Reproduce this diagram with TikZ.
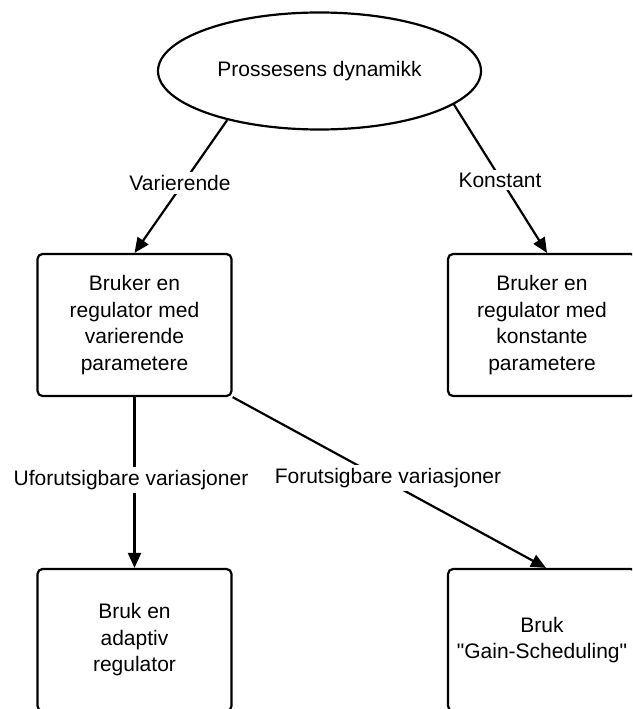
\documentclass[tikz,border=0pt]{standalone}
\usepackage{fontspec}
\setmainfont{Liberation Sans}[Ligatures=TeXOff]
\usetikzlibrary{arrows.meta,shapes.geometric,calc}
\begin{document}
\begin{tikzpicture}[x=1pt,y=-1pt,
  every node/.style={font=\fontsize{21}{26.5}\selectfont},
  box/.style={draw, line width=2.2pt, rounded corners=5pt,
    minimum width=194pt, minimum height=142pt, align=center, inner sep=0pt},
  link/.style={line width=2.2pt, -{Triangle[length=15pt,width=13pt]}},
  tag/.style={fill=white, inner sep=3pt}]
\useasboundingbox (0,0) rectangle (632,709);
\clip (0,0) rectangle (632,709);

% start node
\node[ellipse, draw, line width=2.2pt, minimum width=323pt, minimum height=117pt,
  inner sep=0pt] (dyn) at (319.5,71) {Prossesens dynamikk};

% regulator choices
\node[box] (var) at (134.5,325) {Bruker en\\regulator med\\varierende\\parametere};
\node[box, minimum width=188pt] (kon) at (542,325) {Bruker en\\regulator med\\konstante\\parametere};
\node[box] (ada) at (134.5,640) {Bruk en\\adaptiv\\regulator};
\node[box, minimum width=188pt] (gain) at (542,640) {Bruk\\"Gain-Scheduling"};

% entry points on the right-hand boxes
\coordinate (konin) at ($(kon.north)+(5,0)$);
\coordinate (gainin) at ($(gain.north)+(4,0)$);

% connectors
\draw[link] (dyn.208.5) -- (var.north);
\draw[link] (dyn.-14) -- (konin);
\draw[link] (var.south) -- (ada.north);
\draw[link] (var.south east) -- (gainin);

% connector labels
\node[tag] (lvar) at (180,183) {Varierende};
\node[tag] (lkon) at (500,180) {Konstant};
\node[tag] (lufo) at (131,480) {Uforutsigbare variasjoner};
\node[tag] (lfor) at (388,478) {Forutsigbare variasjoner};
\end{tikzpicture}
\end{document}
